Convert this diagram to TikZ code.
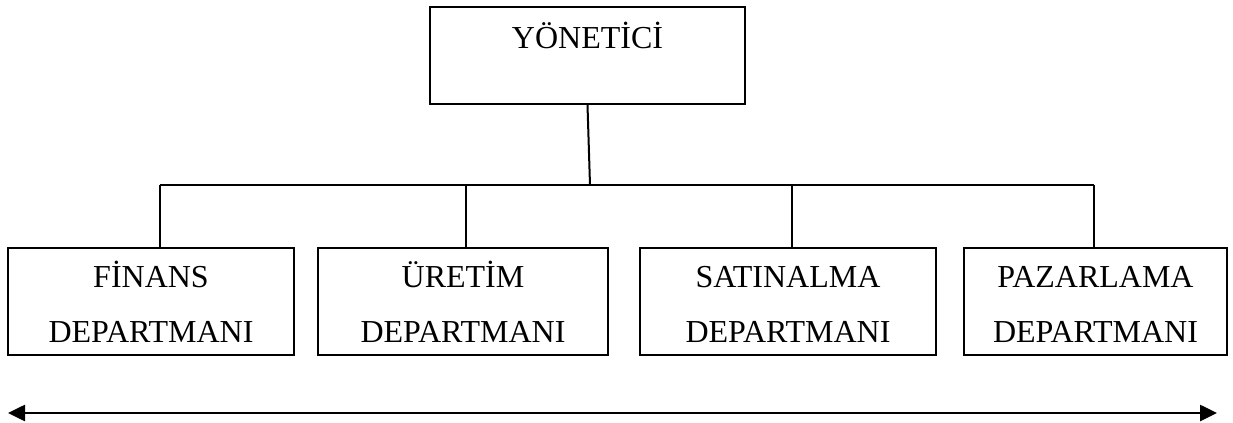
\documentclass[tikz,border=0pt]{standalone}
\usepackage{fontspec}
\setmainfont{Liberation Serif}
\usetikzlibrary{arrows.meta}

\begin{document}
\begin{tikzpicture}[x=0.5pt, y=-0.5pt, line width=1pt,
    kutu/.style={draw, rectangle, inner sep=0pt, align=center,
      font=\fontsize{16}{27.5}\selectfont},
    dept/.style={kutu, minimum height=53.5pt, text height=41pt, text depth=0pt}]
      \useasboundingbox (0,0) rectangle (1233,423);
      % ust kutu
      \node[kutu, minimum width=157.5pt, minimum height=48.5pt,
        text height=12pt, text depth=19.5pt] (yon) at (587.5,55.5) {YÖNETİCİ};
      % departmanlar
      \node[dept, minimum width=143pt] (fin) at (151,301.5) {FİNANS\\DEPARTMANI};
      \node[dept, minimum width=145pt] (ure) at (463,301.5) {ÜRETİM\\DEPARTMANI};
      \node[dept, minimum width=148pt] (sat) at (788,301.5) {SATINALMA\\DEPARTMANI};
      \node[dept, minimum width=131.5pt] (paz) at (1095.5,301.5) {PAZARLAMA\\DEPARTMANI};
      \coordinate (dal) at (590,185);
      \coordinate (d1) at (160,185);
      \coordinate (d2) at (466,185);
      \coordinate (d3) at (792,185);
      \coordinate (d4) at (1094,185);
      \draw (yon.south) -- (dal);
      \draw (d1) -- (d4);
      \draw (d1) -- (d1 |- fin.north);
      \draw (d2) -- (d2 |- ure.north);
      \draw (d3) -- (d3 |- sat.north);
      \draw (d4) -- (d4 |- paz.north);
      % alt ok
      \coordinate (solu) at (8,413);
      \coordinate (sagu) at (1217,413);
      \draw[line width=1.3pt, {Triangle[length=8.5pt,width=8pt]}-{Triangle[length=8.5pt,width=8pt]}] (solu) -- (sagu);
\end{tikzpicture}
\end{document}
